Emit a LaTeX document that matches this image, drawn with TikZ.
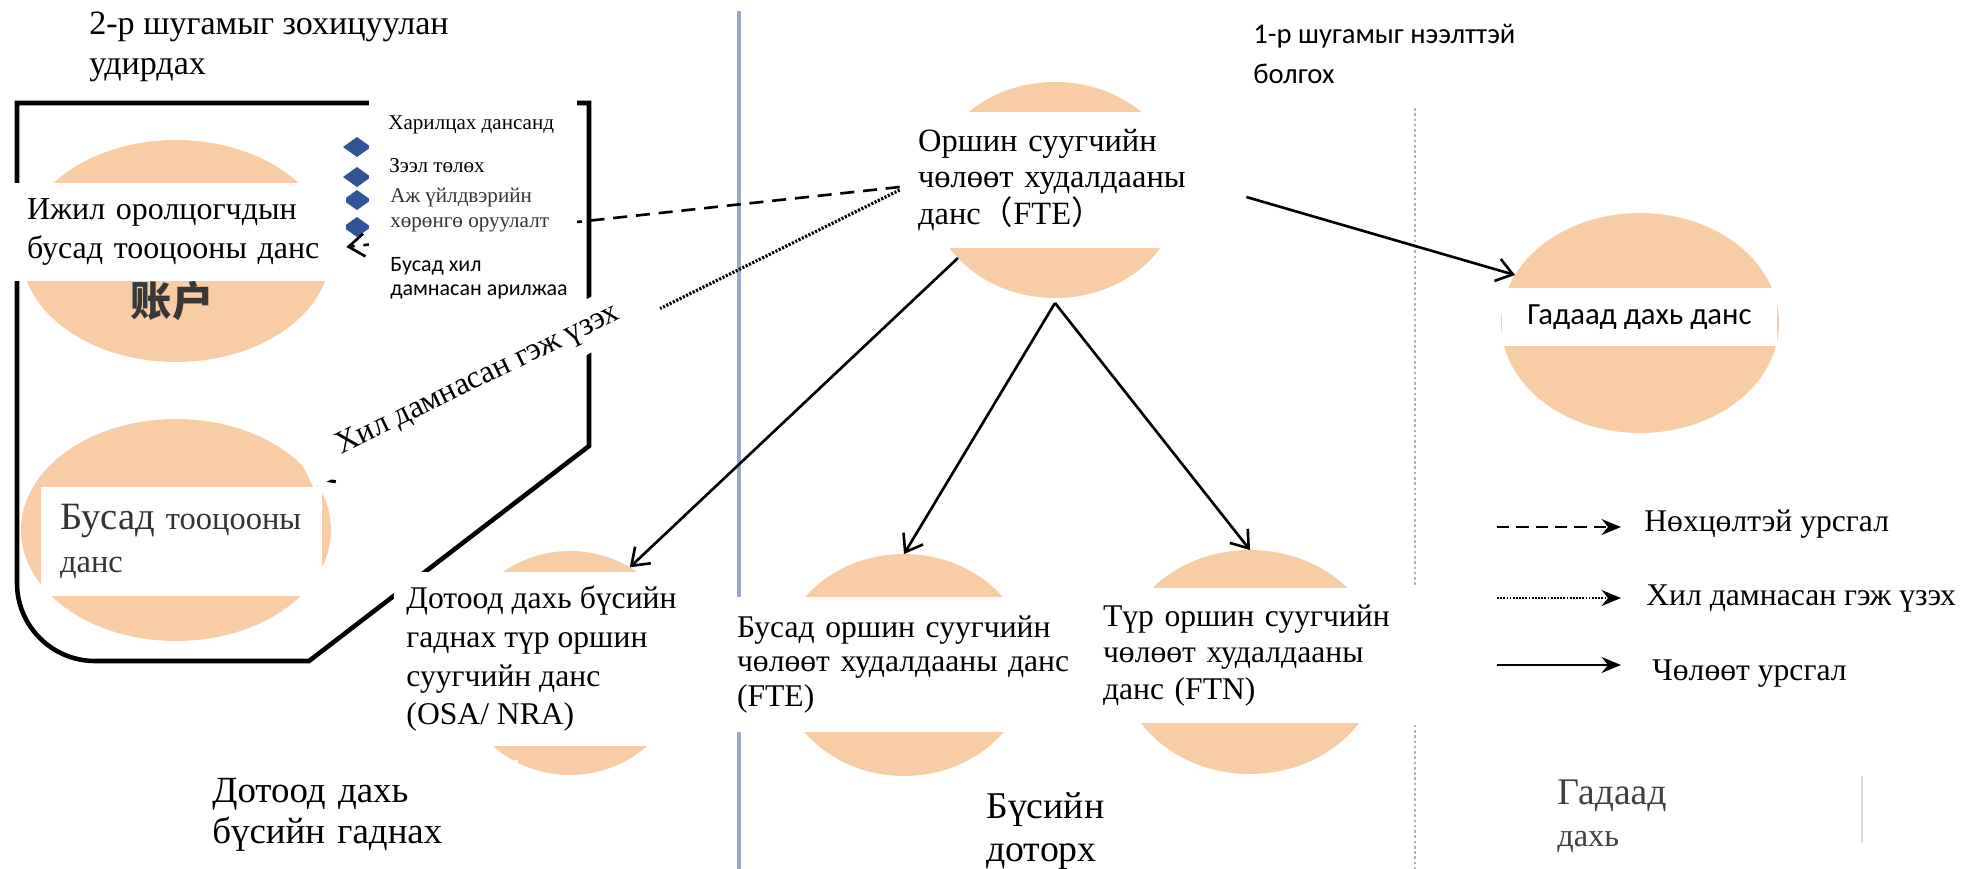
\documentclass[tikz,border=0pt]{standalone}
\usepackage{fontspec}
\setmainfont{Liberation Serif}
\newfontfamily\calfont{Carlito}
\newfontfamily\cjk{Noto Sans CJK SC}
\usepackage{xcolor}
\usetikzlibrary{shapes.geometric, arrows.meta, positioning}
\definecolor{peach}{RGB}{248,204,164}
\definecolor{zoneblue}{RGB}{150,172,200}
\definecolor{bulletblue}{RGB}{47,85,151}

\begin{document}
\begin{tikzpicture}[x=0.02cm, y=-0.02cm,
    acc/.style={ellipse, fill=peach, inner sep=0pt, outer sep=0pt},
    lbl/.style={fill=white, align=left, inner ysep=0pt, font=\fontsize{18}{19.5}\selectfont},
    freetxt/.style={anchor=west, align=left, inner sep=0pt, font=\fontsize{18}{22.8}\selectfont},
    zonetxt/.style={freetxt, font=\fontsize{21}{23}\selectfont},
    freeflow/.style={-{Straight Barb[length=9pt,width=13pt]}, line width=1.5pt},
    condflow/.style={freeflow, dash pattern=on 8pt off 5pt},
    borderflow/.style={freeflow, line width=1.8pt, dash pattern=on 1.2pt off 0.9pt},
    legarrow/.style={-{Stealth[length=11pt,width=9pt]}, line width=1.6pt}]
    \fill[white] (0,0) rectangle (1965,869);
    \useasboundingbox (0,0) rectangle (1965,869);

    % Accounts
    \node[acc, minimum width=6.2cm, minimum height=4.44cm] (same) at (176,251) {};
    \node[acc, minimum width=6.2cm, minimum height=4.44cm] (other) at (176,530) {};
    \node[acc, minimum width=5cm, minimum height=4.32cm] (fte) at (1055,190) {};
    \node[acc, minimum width=4.6cm, minimum height=4.48cm] (osa) at (570,663) {};
    \node[acc, minimum width=5cm, minimum height=4.44cm] (mid) at (904,665) {};
    \node[acc, minimum width=5.2cm, minimum height=4.48cm] (ftn) at (1250,662) {};
    \node[acc, minimum width=5.56cm, minimum height=4.4cm] (abroad) at (1640,323) {};

    % Zone borders
    \draw[zoneblue, line width=2.2pt] (739,11) -- (739,869);
    \draw[gray!60, line width=1.6pt, dash pattern=on 1.5pt off 1.5pt] (1415,108) -- (1415,869);
    \draw[gray!30, line width=1pt] (1862,776) -- (1862,843);

    % Frame of line 2
    \draw[line width=2.6pt] (17,103) -- (589,103) -- (589,446) -- (309,661) -- (95,661)
        .. controls (52,661) and (17,626) .. (17,583) -- cycle;
    \foreach \y in {147,177,200,227}
        \fill[bulletblue] (343,\y) -- (357,\y-10) -- (371,\y) -- (357,\y+10) -- cycle;
    \node[text=black!78, font=\cjk\bfseries\fontsize{23.5}{24}\selectfont] (zhanghu) at (172,301) {账户};

    \node[lbl, text width=6.2cm, inner xsep=0.36cm, minimum height=2.72cm, font=\fontsize{18.5}{20.5}\selectfont] (ftelbl) at (1073,180) {Оршин суугчийн\\чөлөөт худалдааны\\данс{\cjk （}FTE{\cjk ）}};
    \node[lbl, text width=6.08cm, inner xsep=0.3cm, minimum height=1.98cm, font=\fontsize{18.2}{22}\selectfont] (samelbl) at (179,232) {Ижил оролцогчдын\\бусад тооцооны данс};

    % Flows
    \draw[condflow] ([yshift=-0.14cm]ftelbl.west) -- ([yshift=-0.3cm]samelbl.east);
    \draw[borderflow] ([yshift=-0.2cm]ftelbl.west) -- (other.20);
    \draw[freeflow] (fte.215) -- (osa.58);
    \draw[freeflow] ([yshift=-0.1cm]fte.south) -- (mid.north);
    \draw[freeflow] ([yshift=-0.1cm]fte.south) -- (ftn.north);
    \draw[freeflow] ([yshift=-0.34cm]ftelbl.east) -- (abroad.159);

    % Bullet list
    \node[fill=white, minimum width=4.16cm, minimum height=4.14cm, inner sep=0pt] (bullets) at (473,201.5) {};
    \node[anchor=west, inner sep=0pt, font=\fontsize{12}{13}\selectfont] (b1) at (388,125) {Харилцах дансанд};
    \node[anchor=west, inner sep=0pt, font=\fontsize{12}{13}\selectfont] (b2) at (389,166) {Зээл төлөх};
    \node[anchor=west, align=left, inner sep=0pt, text=black!80, font=\fontsize{12}{14.2}\selectfont] (b3) at (390,210.5) {Аж үйлдвэрийн\\хөрөнгө оруулалт};
    \node[anchor=west, align=left, inner sep=0pt, font=\calfont\fontsize{12.5}{13.5}\selectfont] (b4) at (390,278.5) {Бусад хил\\дамнасан арилжаа};

    \node[lbl, rotate=26, minimum width=7.8cm, minimum height=1cm, font=\fontsize{18.1}{20}\selectfont] (borderlbl) at (478,380) {Хил дамнасан гэж үзэх};

    \node[lbl, text width=4.86cm, inner xsep=0.38cm, minimum height=2.18cm, text=black!80, font=\fontsize{18.5}{25}\selectfont] (otherlbl) at (181.5,541.5) {{\fontsize{22}{25}\selectfont Бусад} тооцооны\\данс};
    \node[lbl, minimum width=5.9cm, minimum height=3.48cm, font=\fontsize{18}{22}\selectfont] (osalbl) at (541.5,659) {Дотоод дахь бүсийн\\гаднах түр оршин\\суугчийн данс\\(OSA/ NRA)};
    \node[lbl, text width=6.7cm, inner xsep=0.04cm, minimum height=2.72cm] (midlbl) at (904.5,664.5) {Бусад оршин суугчийн\\чөлөөт худалдааны данс\\(FTE)};
    \node[lbl, text width=6.16cm, inner xsep=0.16cm, minimum height=2.7cm, font=\fontsize{18}{20.8}\selectfont] (ftnlbl) at (1257,655.5) {Түр оршин суугчийн\\чөлөөт худалдааны\\данс (FTN)};
    \node[lbl, minimum width=5.5cm, minimum height=1.16cm, font=\calfont\fontsize{17.5}{20}\selectfont] (abroadlbl) at (1639.5,317) {Гадаад дахь данс};

    % Zone titles
    \node[freetxt, font=\fontsize{19.4}{22.8}\selectfont] (line2) at (89,47) {2-р шугамыг зохицуулан\\удирдах};
    \node[freetxt, font=\calfont\fontsize{16.3}{22.8}\selectfont] (line1) at (1253,54) {1-р шугамыг нээлттэй\\болгох};
    \node[zonetxt, fill=white, anchor=north west, text width=5.64cm, inner xsep=0.48cm, minimum height=2.18cm] (zoneout) at (188,760) {Дотоод дахь\\бүсийн гаднах};
    \node[zonetxt, font=\fontsize{21.5}{24.5}\selectfont] (zonein) at (986,831) {Бүсийн\\доторх};
    \node[zonetxt, text=black!75, font=\fontsize{21.4}{24}\selectfont] (zoneabroad) at (1557,816) {Гадаад\\{\fontsize{18.4}{18}\selectfont дахь}};

    % Legend
    \coordinate (c1a) at (1497,527); \coordinate (c1b) at (1621,527);
    \coordinate (c2a) at (1497,598); \coordinate (c2b) at (1621,598);
    \coordinate (c3a) at (1497,665); \coordinate (c3b) at (1621,665);
    \draw[legarrow, dash pattern=on 7pt off 4pt] (c1a) -- (c1b);
    \draw[legarrow, dash pattern=on 1pt off 0.8pt] (c2a) -- (c2b);
    \draw[legarrow] (c3a) -- (c3b);
    \node[freetxt] (leg1) at (1644,524) {Нөхцөлтэй урсгал};
    \node[freetxt] (leg2) at (1646,599) {Хил дамнасан гэж үзэх};
    \node[freetxt] (leg3) at (1652,674) {Чөлөөт урсгал};
\end{tikzpicture}
\end{document}
